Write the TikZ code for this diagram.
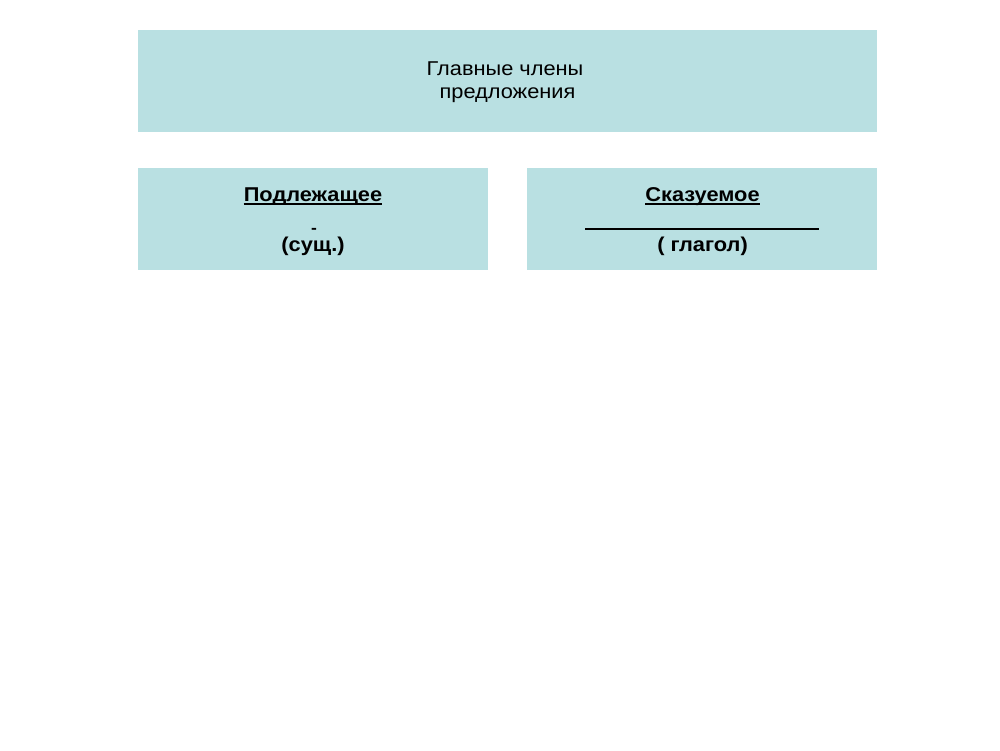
\documentclass[tikz,border=0pt]{standalone}
\usepackage{fontspec}
\setmainfont[FakeStretch=1.09]{Liberation Sans}
\definecolor{boxfill}{RGB}{185,224,226}
\tikzset{
  px/.style={x=1pt,y=-1pt},
  tealbox/.style={fill=boxfill,draw=none,inner sep=0pt},
  lbl/.style={font=\fontsize{20}{24}\selectfont,inner sep=0pt,anchor=base},
  blbl/.style={font=\fontsize{20}{24}\selectfont\bfseries,inner sep=0pt,anchor=base},
  uline/.style={line width=1.6pt}
}
\begin{document}
\begin{tikzpicture}[px]
\useasboundingbox (0,0) rectangle (1000,750);
\fill[white] (0,0) rectangle (1000,750);
% boxes
\node[tealbox,minimum width=739pt,minimum height=102pt] (top) at (507.5,81) {};
\node[tealbox,minimum width=350pt,minimum height=102pt] (left) at (313,219) {};
\node[tealbox,minimum width=350pt,minimum height=102pt] (right) at (702,219) {};
% top text
\node[lbl] (t1) at (505,75) {Главные члены};
\node[lbl] (t2) at (507.5,98.5) {предложения};
% left
\node[blbl] (subj) at (313,201) {Подлежащее};
\draw[uline] ([yshift=-3.2pt]subj.base west) -- ([yshift=-3.2pt]subj.base east);
\node[inner sep=0pt,anchor=base,font=\fontsize{16}{18}\selectfont\bfseries] (dash) at (314,233.3) {-};
\node[blbl] (noun) at (313,251) {(сущ.)};
% right
\node[blbl] (pred) at (702.5,201) {Сказуемое};
\draw[uline] ([yshift=-3.2pt]pred.base west) -- ([yshift=-3.2pt]pred.base east);
\coordinate (la) at (585,229);
\coordinate (lb) at (819,229);
\draw[line width=1.5pt] (la) -- (lb);
\node[blbl] (verb) at (702.5,251) {( глагол)};
\end{tikzpicture}
\end{document}
